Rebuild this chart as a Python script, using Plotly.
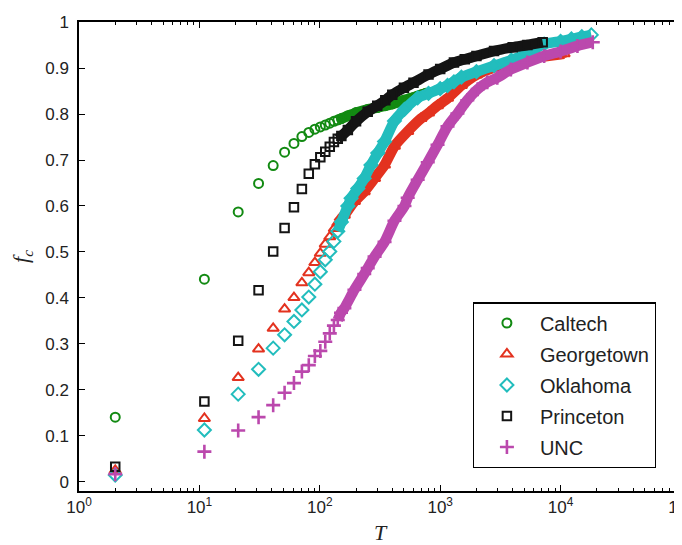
import plotly.graph_objects as go

# ---------------- data ----------------
names = ["Caltech", "Georgetown", "Oklahoma", "Princeton", "UNC"]

T_caltech = [2, 11, 21, 31, 41, 51, 61, 71, 81, 91, 101, 111, 121, 131, 141, 151,
             171, 200, 250, 300, 350, 400, 450, 500, 550, 600, 650, 700, 760]
f_caltech = [0.141, 0.441, 0.587, 0.649, 0.688, 0.717, 0.736, 0.751, 0.760, 0.767,
             0.772, 0.776, 0.780, 0.784, 0.787, 0.790, 0.796, 0.803, 0.810, 0.814,
             0.818, 0.822, 0.826, 0.830, 0.833, 0.836, 0.839, 0.842, 0.845]

T_georgetown = [2, 11, 21, 31, 41, 51, 61, 71, 81, 91, 101, 111, 121, 132, 141, 151,
                160, 194, 234, 285, 345, 417, 537, 692, 800, 950, 1150, 1500, 2000,
                2800, 4100, 6500, 10000, 10700]
f_georgetown = [0.025, 0.138, 0.227, 0.289, 0.334, 0.376, 0.401, 0.433, 0.455, 0.477,
                0.497, 0.517, 0.533, 0.551, 0.563, 0.573, 0.580, 0.610, 0.631, 0.660,
                0.689, 0.730, 0.762, 0.790, 0.802, 0.818, 0.834, 0.862, 0.885, 0.901,
                0.914, 0.923, 0.930, 0.931]

T_oklahoma = [2, 11, 21, 31, 41, 51, 61, 71, 81, 91, 101, 111, 121, 131, 141, 151,
              171, 182, 207, 234, 266, 303, 345, 417, 505, 650, 800, 1000, 1150, 1300,
              1500, 2000, 2800, 3900, 5300, 7300, 10000, 12300, 15000, 18000]
f_oklahoma = [0.015, 0.113, 0.191, 0.245, 0.291, 0.320, 0.349, 0.374, 0.402, 0.430,
              0.457, 0.483, 0.501, 0.523, 0.545, 0.565, 0.600, 0.617, 0.638, 0.660,
              0.689, 0.715, 0.740, 0.785, 0.810, 0.835, 0.845, 0.855, 0.862, 0.870,
              0.880, 0.892, 0.905, 0.917, 0.932, 0.952, 0.958, 0.963, 0.968, 0.972]

T_princeton = [2, 11, 21, 31, 41, 51, 61, 71, 81, 91, 101, 111, 121, 131, 141, 151,
               171, 200, 250, 300, 350, 400, 500, 600, 800, 1000, 1300, 1600, 2000,
               2800, 4000, 5300, 7100]
f_princeton = [0.033, 0.175, 0.307, 0.417, 0.501, 0.552, 0.597, 0.637, 0.670, 0.691,
               0.706, 0.718, 0.729, 0.739, 0.746, 0.752, 0.765, 0.784, 0.805, 0.818,
               0.830, 0.842, 0.857, 0.868, 0.886, 0.898, 0.912, 0.919, 0.926, 0.937,
               0.945, 0.950, 0.956]

T_unc = [2, 11, 21, 31, 41, 51, 61, 71, 81, 91, 101, 111, 121, 131, 141, 150, 160,
         194, 234, 250, 285, 345, 417, 505, 537, 650, 788, 950, 1150, 1390, 1680,
         2050, 2460, 2980, 3860, 5300, 7300, 10000, 13800, 18500]
f_unc = [0.017, 0.066, 0.112, 0.141, 0.167, 0.194, 0.215, 0.240, 0.254, 0.274,
         0.285, 0.305, 0.323, 0.340, 0.352, 0.368, 0.378, 0.418, 0.452, 0.465,
         0.490, 0.522, 0.568, 0.600, 0.618, 0.657, 0.695, 0.733, 0.773, 0.801,
         0.830, 0.854, 0.869, 0.879, 0.897, 0.912, 0.926, 0.936, 0.948, 0.956]

x_tick_vals = [1, 10, 100, 1000, 10000, 100000]
x_tick_text = ["10<sup>0</sup>", "10<sup>1</sup>", "10<sup>2</sup>",
               "10<sup>3</sup>", "10<sup>4</sup>", "10<sup>5</sup>"]
y_tick_vals = [0, 0.1, 0.2, 0.3, 0.4, 0.5, 0.6, 0.7, 0.8, 0.9, 1]
y_tick_text = ["0", "0.1", "0.2", "0.3", "0.4", "0.5", "0.6", "0.7", "0.8", "0.9", "1"]

# ---------------- styling ----------------
colors = ["#128a12", "#e3321f", "#22bdbd", "#141414", "#bb48ad"]
symbols = ["circle-open", "triangle-up-open", "diamond-open", "square-open", "cross-thin-open"]
sizes = [9, 10, 10, 8.5, 10]
widths = [2, 2, 2, 2, 2.6]
dense_from = 141
band_width = 10.5

data = [(T_caltech, f_caltech), (T_georgetown, f_georgetown), (T_oklahoma, f_oklahoma),
        (T_princeton, f_princeton), (T_unc, f_unc)]

fig = go.Figure()
for name, (T, f), c, sym, sz, lw in zip(names, data, colors, symbols, sizes, widths):
    dx = [t for t in T if t >= dense_from]
    dy = [v for t, v in zip(T, f) if t >= dense_from]
    fig.add_trace(go.Scatter(x=dx, y=dy, mode="lines", showlegend=False,
                             hoverinfo="skip", legendgroup=name,
                             line=dict(color=c, width=band_width, shape="spline",
                                       smoothing=0.6)))
    fig.add_trace(go.Scatter(x=T, y=f, mode="markers", name=name, legendgroup=name,
                             marker=dict(symbol=sym, size=sz, color=c,
                                         line=dict(color=c, width=lw))))

minor_vals = [m * 10 ** e for e in range(0, 5) for m in range(2, 10)]

axis_common = dict(
    showgrid=False, zeroline=False, showline=True, linecolor="black", linewidth=1.5,
    mirror="ticks", ticks="inside", tickcolor="black", tickwidth=1, automargin=False,
    tickfont=dict(family="Liberation Sans, Arial, sans-serif", size=17, color="#222222"),
)

fig.update_layout(
    width=682, height=545,
    margin=dict(l=71, r=9, t=14, b=62),
    paper_bgcolor="white", plot_bgcolor="white",
    font=dict(family="Liberation Sans, Arial, sans-serif", color="#222222"),
    xaxis=dict(type="log", range=[0, 5], tickmode="array", tickvals=x_tick_vals,
               ticktext=x_tick_text, ticklen=6, ticklabeloverflow="allow",
               minor=dict(tickmode="array", tickvals=minor_vals, ticks="inside",
                          ticklen=3, tickcolor="black", showgrid=False),
               title=dict(text="<i>T</i>", standoff=8,
                          font=dict(family="Liberation Serif, Times New Roman, serif",
                                    size=22, color="#222222")),
               **axis_common),
    yaxis=dict(range=[-0.0196, 1.0], tickmode="array", tickvals=y_tick_vals,
               ticktext=y_tick_text, ticklen=6, ticklabelstandoff=5,
               title=dict(text="<i>f</i><sub><i>c</i></sub>", standoff=22,
                          font=dict(family="Liberation Serif, Times New Roman, serif",
                                    size=22, color="#222222")),
               **axis_common),
    legend=dict(x=0.958, xanchor="right", y=0.0484, yanchor="bottom",
                bordercolor="black", borderwidth=1.2, bgcolor="white",
                font=dict(family="Liberation Sans, Arial, sans-serif", size=20,
                          color="#222222"),
                itemwidth=56, tracegroupgap=2),
)

fig.write_html("out.html")
